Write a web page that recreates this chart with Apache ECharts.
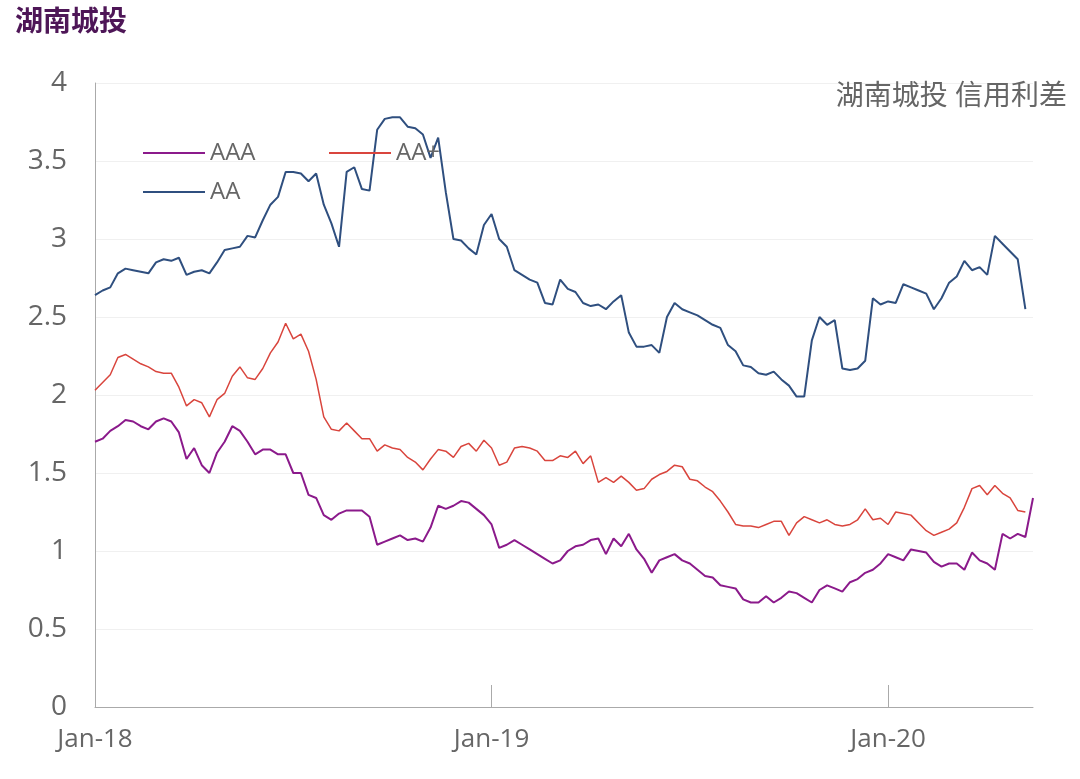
<!DOCTYPE html>
<html><head><meta charset="utf-8">
<script src="https://cdn.jsdelivr.net/npm/echarts@6/dist/echarts.min.js"></script>
<style>body{margin:0}#c{width:1080px;height:779px}</style>
</head><body><div id="c"></div>
<script>
var aaa = [1.70,1.72,1.77,1.80,1.84,1.83,1.80,1.78,1.83,1.85,1.83,1.76,1.59,1.66,1.55,1.50,1.63,1.70,1.80,1.77,1.70,1.62,1.65,1.65,1.62,1.62,1.50,1.50,1.36,1.34,1.23,1.20,1.24,1.26,1.26,1.26,1.22,1.04,1.06,1.08,1.10,1.07,1.08,1.06,1.15,1.29,1.27,1.29,1.32,1.31,1.27,1.23,1.17,1.02,1.04,1.07,1.04,1.01,0.98,0.95,0.92,0.94,1.00,1.03,1.04,1.07,1.08,0.98,1.08,1.03,1.11,1.01,0.95,0.86,0.94,0.96,0.98,0.94,0.92,0.88,0.84,0.83,0.78,0.77,0.76,0.69,0.67,0.67,0.71,0.67,0.70,0.74,0.73,0.70,0.67,0.75,0.78,0.76,0.74,0.80,0.82,0.86,0.88,0.92,0.98,0.96,0.94,1.01,1.00,0.99,0.93,0.90,0.92,0.92,0.88,0.99,0.94,0.92,0.88,1.11,1.08,1.11,1.09,1.34];
var aaPlus = [2.03,2.08,2.13,2.24,2.26,2.23,2.20,2.18,2.15,2.14,2.14,2.05,1.93,1.97,1.95,1.86,1.97,2.01,2.12,2.18,2.11,2.10,2.17,2.27,2.34,2.46,2.36,2.39,2.28,2.10,1.86,1.78,1.77,1.82,1.77,1.72,1.72,1.64,1.68,1.66,1.65,1.60,1.57,1.52,1.59,1.65,1.64,1.60,1.67,1.69,1.64,1.71,1.66,1.55,1.57,1.66,1.67,1.66,1.64,1.58,1.58,1.61,1.60,1.64,1.56,1.61,1.44,1.47,1.44,1.48,1.44,1.39,1.40,1.46,1.49,1.51,1.55,1.54,1.46,1.45,1.41,1.38,1.32,1.25,1.17,1.16,1.16,1.15,1.17,1.19,1.19,1.10,1.18,1.22,1.20,1.18,1.20,1.17,1.16,1.17,1.20,1.27,1.20,1.21,1.17,1.25,1.24,1.23,1.18,1.13,1.10,1.12,1.14,1.18,1.28,1.40,1.42,1.36,1.42,1.37,1.34,1.26,1.25];
var aa = [2.64,2.67,2.69,2.78,2.81,2.80,2.79,2.78,2.85,2.87,2.86,2.88,2.77,2.79,2.80,2.78,2.85,2.93,2.94,2.95,3.02,3.01,3.12,3.22,3.27,3.43,3.43,3.42,3.37,3.42,3.22,3.10,2.95,3.43,3.46,3.32,3.31,3.70,3.77,3.78,3.78,3.72,3.71,3.67,3.52,3.65,3.30,3.00,2.99,2.94,2.90,3.09,3.16,3.00,2.95,2.80,2.77,2.74,2.72,2.59,2.58,2.74,2.68,2.66,2.59,2.57,2.58,2.55,2.60,2.64,2.40,2.31,2.31,2.32,2.27,2.50,2.59,2.55,2.53,2.51,2.48,2.45,2.43,2.32,2.28,2.19,2.18,2.14,2.13,2.15,2.10,2.06,1.99,1.99,2.35,2.50,2.45,2.48,2.17,2.16,2.17,2.22,2.62,2.58,2.60,2.59,2.71,2.69,2.67,2.65,2.55,2.62,2.72,2.76,2.86,2.80,2.82,2.77,3.02,2.97,2.92,2.87,2.55];
var yearLabels = {0: 'Jan-18', 52: 'Jan-19', 104: 'Jan-20'};

var n = Math.max(aaa.length, aaPlus.length, aa.length);
var cats = [];
for (var i = 0; i < n; i++) cats.push(i);

var chart = echarts.init(document.getElementById('c'));
var font = 'Open Sans, Noto Sans CJK SC';
function legend(name, left, top) {
    return {data: [name], left: left, top: top, orient: 'horizontal',
        itemWidth: 62, itemHeight: 2, icon: 'rect', itemGap: 0,
        textStyle: {fontSize: 24, color: '#666', fontFamily: font}};
}
chart.setOption({
    animation: false,
    title: [
        {text: '湖南城投', left: 10, top: 4, textStyle: {fontSize: 28, fontWeight: 'bold', color: '#4e1657', fontFamily: font}},
        {text: '湖南城投 信用利差', right: 8, top: 78, textStyle: {fontSize: 28, fontWeight: 'normal', color: '#666', fontFamily: font}}
    ],
    legend: [legend('AAA', 138, 136), legend('AA+', 324, 136), legend('AA', 138, 175)],
    grid: {left: 95, right: 47, top: 83, bottom: 72},
    xAxis: {
        type: 'category', data: cats, boundaryGap: false,
        axisLine: {lineStyle: {color: '#aaa'}},
        axisTick: {inside: true, length: 22, lineStyle: {color: '#aaa'},
            interval: function (i) { return yearLabels[i] !== undefined; }},
        axisLabel: {fontSize: 26, color: '#666', margin: 20, fontFamily: font,
            interval: function (i) { return yearLabels[i] !== undefined; },
            formatter: function (v) { return yearLabels[v] || ''; }}
    },
    yAxis: {
        type: 'value', min: 0, max: 4, interval: 0.5,
        axisLine: {show: true, lineStyle: {color: '#aaa'}},
        axisLabel: {fontSize: 28, color: '#666', margin: 28, fontFamily: font},
        splitLine: {lineStyle: {color: '#f0f0f0'}}
    },
    series: [
        {name: 'AAA', type: 'line', data: aaa, showSymbol: false, lineStyle: {width: 2, color: '#8b1a8b'}, itemStyle: {color: '#8b1a8b'}},
        {name: 'AA+', type: 'line', data: aaPlus, showSymbol: false, lineStyle: {width: 1.5, color: '#d9453d'}, itemStyle: {color: '#d9453d'}},
        {name: 'AA', type: 'line', data: aa, showSymbol: false, lineStyle: {width: 2, color: '#2f4f7f'}, itemStyle: {color: '#2f4f7f'}}
    ]
});
</script></body></html>
